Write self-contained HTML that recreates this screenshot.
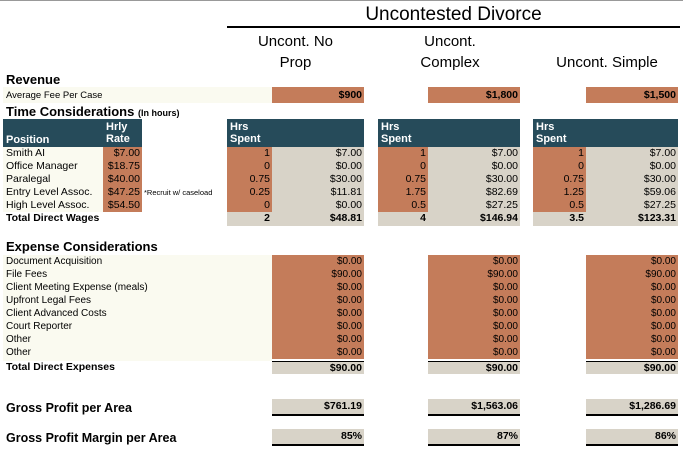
<!DOCTYPE html>
<html><head><meta charset="utf-8"><style>
body{margin:0;width:683px;height:450px;overflow:hidden;background:#fff;font-family:"Liberation Sans",sans-serif;position:relative;border-top:1px solid #999;box-sizing:border-box}
.a{position:absolute;box-sizing:border-box;white-space:nowrap;font-size:10.5px;line-height:13px;color:#000}
.o{background:#c47c5a}.g{background:#d8d3c8}.c{background:#fafaf0}.t{background:#264b5a;color:#fff;font-weight:bold;font-size:11px}
.r{text-align:right;padding-right:2px}.b{font-weight:bold}
</style></head><body>
<div class="a" style="left:227px;top:3px;width:453px;font-size:19px;line-height:22px;text-align:center">Uncontested Divorce</div>
<div class="a" style="left:227px;top:25px;width:453px;height:2px;background:#000"></div>
<div class="a" style="left:227px;top:30px;width:137px;font-size:15px;line-height:21px;text-align:center">Uncont. No<br>Prop</div>
<div class="a" style="left:380px;top:30px;width:140px;font-size:15px;line-height:21px;text-align:center">Uncont.<br>Complex</div>
<div class="a" style="left:534px;top:51px;width:146px;font-size:15px;line-height:21px;text-align:center">Uncont. Simple</div>
<div class="a b" style="left:6px;top:71px;font-size:13px;line-height:15px">Revenue</div>
<div class="a c" style="left:3px;top:86px;width:269px;height:16px;padding:2px 3px;font-size:9.5px">Average Fee Per Case</div>
<div class="a b" style="left:6px;top:103px;font-size:13px;line-height:15px">Time Considerations <span style="font-size:9px">(In hours)</span></div>
<div class="a t" style="left:3px;top:118px;width:100px;height:28px;padding:15px 0 0 3px;line-height:12px">Position</div>
<div class="a t" style="left:103px;top:118px;width:39px;height:28px;padding:2px 0 0 3px;line-height:12px">Hrly<br>Rate</div>
<div class="a" style="left:144px;top:185px;font-size:7.5px">*Recruit w/ caseload</div>
<div class="a b" style="left:6px;top:211px">Total Direct Wages</div>
<div class="a b" style="left:6px;top:238px;font-size:13px;line-height:15px">Expense Considerations</div>
<div class="a c" style="left:3px;top:254px;width:269px;height:106px"></div>
<div class="a b" style="left:6px;top:360px">Total Direct Expenses</div>
<div class="a b" style="left:6px;top:400px;font-size:12.5px;line-height:15px">Gross Profit per Area</div>
<div class="a b" style="left:6px;top:430px;font-size:12.5px;line-height:15px">Gross Profit Margin per Area</div>
<script>
const positions=["Smith AI","Office Manager","Paralegal","Entry Level Assoc.","High Level Assoc."];
const rates=["$7.00","$18.75","$40.00","$47.25","$54.50"];
const expenseLabels=["Document Acquisition","File Fees","Client Meeting Expense (meals)","Upfront Legal Fees","Client Advanced Costs","Court Reporter","Other","Other"];
const fees=["$900","$1,800","$1,500"];
const hrs=[["1","0","0.75","0.25","0"],["1","0","0.75","1.75","0.5"],["1","0","0.75","1.25","0.5"]];
const costs=[["$7.00","$0.00","$30.00","$11.81","$0.00"],["$7.00","$0.00","$30.00","$82.69","$27.25"],["$7.00","$0.00","$30.00","$59.06","$27.25"]];
const totHrs=["2","4","3.5"];
const totWages=["$48.81","$146.94","$123.31"];
const expenses=[["$0.00","$90.00","$0.00","$0.00","$0.00","$0.00","$0.00","$0.00"],["$0.00","$90.00","$0.00","$0.00","$0.00","$0.00","$0.00","$0.00"],["$0.00","$90.00","$0.00","$0.00","$0.00","$0.00","$0.00","$0.00"]];
const totExp=["$90.00","$90.00","$90.00"];
const profit=["$761.19","$1,563.06","$1,286.69"];
const margin=["85%","87%","86%"];
const G=[{x:227,h:272,e:364,f:272},{x:378,h:428,e:520,f:428},{x:533,h:586,e:678,f:586}];
function mk(cls,l,t,w,h,txt,st){const d=document.createElement('div');d.className='a '+cls;d.style.cssText=`left:${l}px;top:${t}px;width:${w}px;height:${h}px;`+(st||'');d.textContent=txt;document.body.appendChild(d);return d;}
const RY=146,RH=13;
positions.forEach((p,i)=>{
 let d=mk('c',3,RY+i*RH,100,RH,p,'padding-left:3px');
 
 
 d=mk('o r',103,RY+i*RH,39,RH,rates[i]);
 
 
});
expenseLabels.forEach((p,i)=>{
 const d=mk('',3,254+i*RH,260,RH,p,'padding-left:3px;font-size:10px');
 
 
});
G.forEach((g,k)=>{
 let d=mk('o r b',g.f,86,g.e-g.f,16,fees[k],'line-height:16px');
 
 
 d=mk('t',g.x,118,g.e-g.x,28,'','padding:2px 0 0 3px;line-height:12px');d.innerHTML='Hrs<br>Spent';
 
 
 hrs[k].forEach((v,i)=>{
  let e=mk('o r',g.x,RY+i*RH,g.h-g.x,RH,v);
  
  
  e=mk('g r',g.h,RY+i*RH,g.e-g.h,RH,costs[k][i]);
  
  
 });
 d=mk('g r b',g.x,211,g.h-g.x,14,totHrs[k]);
 
 
 d=mk('g r b',g.h,211,g.e-g.h,14,totWages[k]);
 
 
 expenses[k].forEach((v,i)=>{
  const e=mk('o r',g.f,254+i*RH,g.e-g.f,RH,v,'font-size:10px');
  
  
 });
 d=mk('g r b',g.f,360,g.e-g.f,13,totExp[k],'border-top:1px solid #000;line-height:12px');
 
 
 d=mk('g r b',g.f,398,g.e-g.f,17,profit[k],'border-bottom:2px solid #000;line-height:15px');
 
 
 d=mk('g r b',g.f,428,g.e-g.f,17,margin[k],'border-bottom:2px solid #000;line-height:15px');
 
 
});
</script>
</body></html>
